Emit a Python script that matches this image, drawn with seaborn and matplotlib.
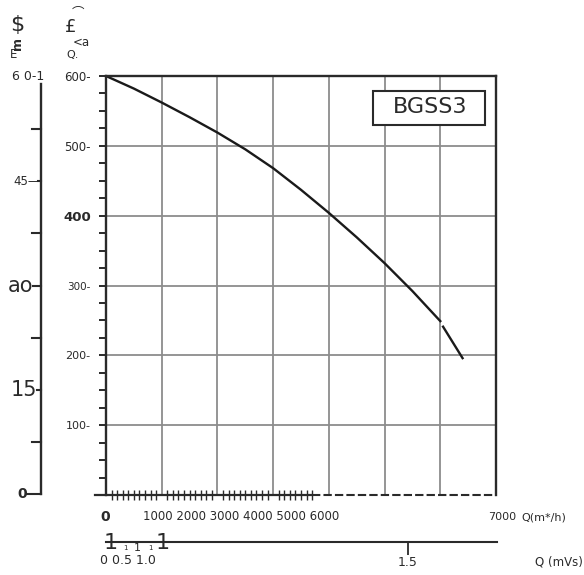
import matplotlib
matplotlib.use('Agg')
import matplotlib.pyplot as plt
from matplotlib.patches import Rectangle
from matplotlib.ticker import MultipleLocator, FixedLocator
from matplotlib.transforms import blended_transform_factory
import numpy as np
import pandas as pd
import seaborn as sns

# fan curve (Pa vs m3/h), gap near 6000 kept
flow_m3h = [0, 500, 1000, 1500, 2000, 2500, 3000, 3500, 4000, 4500, 5000, 5500, 6000, 6050, 6400]
pressure_pa = [600, 582, 562, 541, 519, 495, 468, 437, 404, 369, 332, 292, 249, 241, 196]
segment = [0] * 13 + [1] * 2

pa_ticks = [100, 200, 300, 400, 500, 600]
pa_labels = ['100-', '200-', '300-', '400', '500-', '600-']
mm_ticks = [0, 15, 30, 45]
mm_labels = ['0', '15', 'ao', '45—']
qh_labels = ['1000', '2000', '3000', '4000', '5000', '6000']
qs_labels = ['0', '0.5', '1.0']
model_name = 'BGSS3'

W, H = 584, 575
INK = '#2a2a2a'
GRID = '#8c8c8c'


def fx(x):
    return x / W


def fy(y):
    return 1 - y / H


df = pd.DataFrame({'flow': flow_m3h, 'pressure': pressure_pa, 'seg': segment})

fig = plt.figure(figsize=(W / 100, H / 100), dpi=100)
fig.patch.set_facecolor('white')

# main chart
ax = fig.add_axes([fx(106), fy(495), 390 / W, 419 / H])
ax.set_xlim(0, 7000)
ax.set_ylim(0, 600)
sns.lineplot(data=df, x='flow', y='pressure', units='seg', estimator=None,
             color='#1a1a1a', lw=1.7, ax=ax, legend=False)
ax.set_xlabel('')
ax.set_ylabel('')

ax.set_xticks(np.arange(0, 7001, 1000))
ax.set_xticklabels([])
ax.xaxis.set_minor_locator(FixedLocator(np.arange(0, 3701, 100)))
ax.tick_params(axis='x', which='major', length=0)
ax.tick_params(axis='x', which='minor', direction='inout', length=7, width=1, color=INK)

ax.set_yticks(pa_ticks)
ax.set_yticklabels(pa_labels)
ax.yaxis.set_minor_locator(MultipleLocator(25))
ax.tick_params(axis='y', which='both', direction='out', length=5, width=1.4, color=INK,
               pad=6, labelcolor=INK)
sizes = {'100-': 8, '200-': 8, '300-': 7.5, '400': 9.5, '500-': 8.5, '600-': 8.5}
for lab in ax.get_yticklabels():
    lab.set_fontsize(sizes[lab.get_text()])
    if lab.get_text() == '400':
        lab.set_fontweight('bold')

ax.grid(True, which='major', color=GRID, lw=1.3)
for s in ['top', 'right', 'left']:
    ax.spines[s].set_color(INK)
    ax.spines[s].set_linewidth(1.7)
ax.spines['bottom'].set_visible(False)
ax.plot([-200, 3700], [0, 0], color=INK, lw=1.6, clip_on=False)
ax.plot([3700, 7000], [0, 0], color=INK, lw=1.5, ls=(0, (4, 1.5)), clip_on=False)

# model box
ax.add_patch(Rectangle((0.685, 0.883), 0.287, 0.081, transform=ax.transAxes,
                       facecolor='white', edgecolor=INK, lw=1.5, zorder=3))
ax.text(0.831, 0.925, model_name, transform=ax.transAxes, ha='center', va='center',
        fontsize=16, color=INK, zorder=4)

# m3/h labels
fig.text(fx(105), fy(517), '0', ha='center', va='center', fontsize=10, fontweight='bold', color=INK)
fig.text(fx(143), fy(517), ' '.join(qh_labels), ha='left', va='center', fontsize=8.5, color=INK)
fig.text(fx(516), fy(517), '7000', ha='right', va='center', fontsize=8, color=INK)
fig.text(fx(521), fy(517), 'Q(m*/h)', ha='left', va='center', fontsize=8, color=INK)

# m3/s scale
axq = fig.add_axes([fx(106), fy(542), 391 / W, 0.0001])
axq.set_xlim(0, 7000 / 3600)
axq.patch.set_visible(False)
for s in ['top', 'right', 'left']:
    axq.spines[s].set_visible(False)
axq.spines['bottom'].set_color(INK)
axq.spines['bottom'].set_linewidth(1.5)
axq.set_yticks([])
axq.set_xticks([1.5])
axq.set_xticklabels(['1.5'])
axq.tick_params(axis='x', direction='out', length=9, width=1.3, color=INK, pad=1,
                labelsize=9, labelcolor=INK)
fig.text(fx(100), fy(560), ' '.join(qs_labels), ha='left', va='center', fontsize=9, color=INK)
fig.text(fx(111), fy(543), '1', ha='center', va='center', fontsize=16, color=INK)
fig.text(fx(163), fy(543), '1', ha='center', va='center', fontsize=16, color=INK)
fig.text(fx(125), fy(548), '1', ha='center', va='center', fontsize=5, color=INK)
fig.text(fx(137), fy(548), '1', ha='center', va='center', fontsize=8, color=INK)
fig.text(fx(150), fy(548), '1', ha='center', va='center', fontsize=5, color=INK)
fig.text(fx(535), fy(562), 'Q (mVs)', ha='left', va='center', fontsize=8.5, color=INK)

# mm water column scale on the far left
axp = fig.add_axes([fx(41), fy(494), 0.0001, 417 / H])
axp.set_ylim(0, 60)
axp.patch.set_visible(False)
for s in ['top', 'right', 'bottom']:
    axp.spines[s].set_visible(False)
axp.spines['left'].set_color(INK)
axp.spines['left'].set_linewidth(1.7)
axp.spines['left'].set_bounds(0, 59)
axp.set_xticks([])
axp.set_yticks([])
trans = blended_transform_factory(fig.transFigure, axp.transData)
tick_len = [14, 4, 8, 3]
minor_vals = [7.5, 22.5, 37.5, 52.5]
for v, L in zip(mm_ticks, tick_len):
    axp.plot([fx(41 - L), fx(41)], [v, v], transform=trans, color=INK, lw=1.5, clip_on=False)
for v in minor_vals:
    axp.plot([fx(32), fx(41)], [v, v], transform=trans, color=INK, lw=1.5, clip_on=False)
label_right = [27, 37, 33, 40]
label_size = [10, 15, 15, 8.5]
for v, lab, r, fs in zip(mm_ticks, mm_labels, label_right, label_size):
    axp.text(fx(r), v, lab, transform=trans, ha='right', va='center', fontsize=fs,
             color=INK, fontweight='bold' if lab == '0' else 'normal')
fig.text(fx(44), fy(77), '6 0-1', ha='right', va='center', fontsize=9, color=INK)

# garbled axis captions at the top
fig.text(fx(17), fy(25), '$', ha='center', va='center', fontsize=16, color=INK)
fig.text(fx(17), fy(43), 'm', ha='center', va='center', fontsize=9, rotation=90,
         fontweight='bold', color=INK)
fig.text(fx(14), fy(55), 'E', ha='center', va='center', fontsize=8.5, color=INK)
fig.text(fx(71), fy(27), '£', ha='center', va='center', fontsize=13, color=INK)
fig.text(fx(78), fy(12), '⌒', ha='center', va='center', fontsize=9, color=INK,
         family=['DejaVu Sans', 'Noto Sans CJK JP'])
fig.text(fx(81), fy(43), '<a', ha='center', va='center', fontsize=8.5, color=INK)
fig.text(fx(73), fy(55), 'Q.', ha='center', va='center', fontsize=8, color=INK)

fig.savefig('out.png', dpi=100, facecolor='white')
